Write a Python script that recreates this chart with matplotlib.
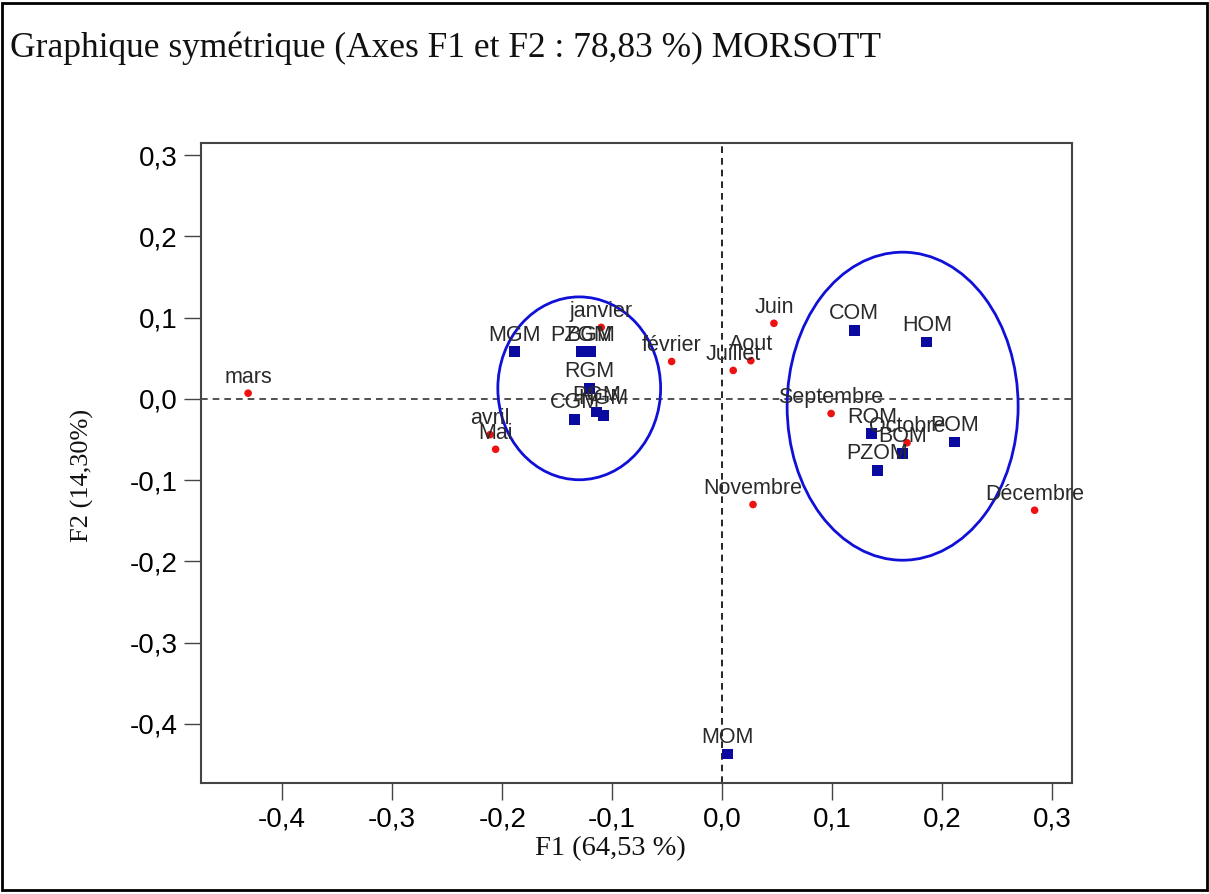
import matplotlib
matplotlib.use("Agg")
import matplotlib.pyplot as plt
from matplotlib.patches import Ellipse, Rectangle
from matplotlib.ticker import FixedLocator, FuncFormatter

# Months (column points of the correspondence analysis)
months = ['janvier', 'février', 'mars', 'avril', 'Mai', 'Juin', 'Juillet',
          'Aout', 'Septembre', 'Octobre', 'Novembre', 'Décembre']
month_f1 = [-0.110, -0.046, -0.431, -0.211, -0.206, 0.047, 0.010,
            0.026, 0.099, 0.168, 0.028, 0.284]
month_f2 = [0.088, 0.046, 0.007, -0.044, -0.062, 0.093, 0.035,
            0.047, -0.018, -0.054, -0.130, -0.137]

# Taxa (row points)
sites = ['MGM', 'PZGM', 'BGM', 'RGM', 'PGM', 'HGM', 'CGM',
         'COM', 'HOM', 'ROM', 'POM', 'BOM', 'PZOM', 'MOM']
site_f1 = [-0.189, -0.128, -0.120, -0.121, -0.114, -0.108, -0.134,
           0.120, 0.186, 0.136, 0.211, 0.164, 0.141, 0.005]
site_f2 = [0.058, 0.058, 0.058, 0.013, -0.016, -0.020, -0.025,
           0.084, 0.070, -0.043, -0.053, -0.067, -0.088, -0.437]

x_ticks = [-0.4, -0.3, -0.2, -0.1, 0.0, 0.1, 0.2, 0.3]
y_ticks = [-0.4, -0.3, -0.2, -0.1, 0.0, 0.1, 0.2, 0.3]

# Group envelopes: (centre F1, centre F2, width, height)
group_left = (-0.130, 0.013, 0.148, 0.225)
group_right = (0.164, -0.009, 0.210, 0.379)

fig = plt.figure(figsize=(12.09, 8.94), dpi=100)
ax = fig.add_axes([0.1663, 0.1242, 0.7204, 0.7158])

ax.set_xlim(-0.4738, 0.318)
ax.set_ylim(-0.4726, 0.3148)

# reference lines through the origin
ax.axvline(0, color='black', lw=1.2, ls=(0, (4, 3)), zorder=1)
ax.axhline(0, color='#333333', lw=1.2, ls=(0, (4, 3)), zorder=1)

for cx, cy, w, h in (group_left, group_right):
    ax.add_patch(Ellipse((cx, cy), w, h, fill=False, edgecolor='#1010d8',
                         lw=2.0, zorder=2))

ax.scatter(month_f1, month_f2, s=30, marker='o', color='#ee1111',
           edgecolors='none', zorder=3)
ax.scatter(site_f1, site_f2, s=60, marker='s', color='#0a0aa0',
           edgecolors='none', zorder=3)

label_font = dict(family='Liberation Sans', size=15.5, color='#2a2a2a')
for name, x, y in zip(months, month_f1, month_f2):
    ax.annotate(name, (x, y), xytext=(0, 11.5), textcoords='offset points',
                ha='center', va='center', zorder=4, **label_font)
for name, x, y in zip(sites, site_f1, site_f2):
    ax.annotate(name, (x, y), xytext=(0, 12), textcoords='offset points',
                ha='center', va='center', zorder=4, **label_font)

comma = FuncFormatter(lambda v, p: f"{v:.1f}".replace('.', ',').replace('-0,0', '0,0'))
ax.xaxis.set_major_locator(FixedLocator(x_ticks))
ax.yaxis.set_major_locator(FixedLocator(y_ticks))
ax.xaxis.set_major_formatter(comma)
ax.yaxis.set_major_formatter(comma)
ax.tick_params(direction='out', length=12, width=1.0, color='#444444',
               labelsize=20, pad=5)
for lab in ax.get_xticklabels() + ax.get_yticklabels():
    lab.set_family('Liberation Sans')

for sp in ax.spines.values():
    sp.set_color('#444444')
    sp.set_linewidth(1.5)

fig.text(0.0085, 0.946, 'Graphique symétrique (Axes F1 et F2 : 78,83 %) MORSOTT',
         family='Liberation Serif', size=25.5, ha='left', va='center', color='#111111')
fig.text(0.5045, 0.051, 'F1 (64,53 %)', family='Liberation Serif', size=20.5,
         ha='center', va='center', color='#111111')
fig.text(0.0678, 0.4687, 'F2 (14,30%)', family='Liberation Serif', size=19,
         ha='center', va='center', rotation=90, color='#111111')

# outer frame around the whole figure
fig.patches.append(Rectangle((0.002, 0.004), 0.996, 0.993, transform=fig.transFigure,
                             fill=False, edgecolor='black', lw=2.0))

fig.savefig('out.png', dpi=100)
